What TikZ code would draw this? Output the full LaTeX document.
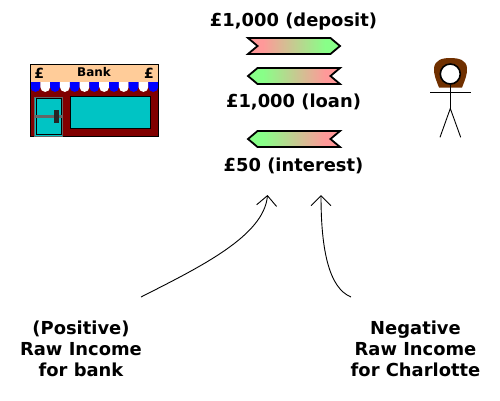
\documentclass[tikz,border=0pt]{standalone}
\usepackage{fontspec}
\setmainfont{DejaVu Sans}
\usepackage{xcolor}
\usetikzlibrary{shapes.symbols,arrows.meta,positioning}

\definecolor{ribbonpink}{HTML}{FF9999}
\definecolor{ribbongreen}{HTML}{88FF88}
\definecolor{shopred}{HTML}{800000}
\definecolor{shopteal}{HTML}{00C4C4}
\definecolor{shoppeach}{HTML}{FFCC99}
\definecolor{hairbrown}{HTML}{703000}
\pgfdeclarehorizontalshading{pinkgreen}{100bp}{color(0bp)=(ribbonpink); color(33bp)=(ribbonpink); color(67bp)=(ribbongreen); color(100bp)=(ribbongreen)}
\pgfdeclarehorizontalshading{greenpink}{100bp}{color(0bp)=(ribbongreen); color(33bp)=(ribbongreen); color(67bp)=(ribbonpink); color(100bp)=(ribbonpink)}

\begin{document}
\begin{tikzpicture}[
  x=1pt, y=-1pt,
  lbl/.style={font=\fontsize{17.9}{21}\selectfont\bfseries, align=center, inner sep=0pt},
  signlbl/.style={font=\fontsize{12}{14}\selectfont\bfseries, inner sep=0pt},
  poundlbl/.style={font=\fontsize{14}{14}\selectfont\bfseries, inner sep=0pt},
  ribbon/.style={draw, line width=1.8pt, signal, signal pointer angle=80, minimum width=92pt, minimum height=16pt, inner sep=0pt, outer sep=0pt},
  paid/.style={ribbon, signal from=west, signal to=east, shading=pinkgreen},
  owed/.style={ribbon, signal from=east, signal to=west, shading=greenpink},
  arr/.style={-{Straight Barb[length=10pt, width=20pt, line width=0.9pt]}, line width=0.9pt},
  glass/.style={fill=shopteal}
]
\useasboundingbox (0,0) rectangle (500,400);

% Central column: repayments and their labels
\node[lbl] (deposit) at (293.5,21.5) {£1,000 (deposit)};
\node[paid] (depositband) at (294,46) {};
\node[owed] (loanband) at (294,76) {};
\node[lbl] (loan) at (293.5,101.5) {£1,000 (loan)};
\node[owed] (interestband) at (294,139) {};
\node[lbl] (interest) at (293.5,165.5) {£50 (interest)};

% Bank shop front
\fill[shopred] (30.5,82) rectangle (158,136.5);
\fill[shoppeach] (30.5,64.5) rectangle (158,82);
\foreach \i in {0,...,12} {
  \pgfmathsetmacro{\xa}{30.5+9.82*\i}
  \pgfmathtruncatemacro{\odd}{mod(\i,2)}
  \ifnum\odd=0 \def\awning{blue}\else\def\awning{white}\fi
  \fill[\awning] (\xa,82) -- ++(0,5) arc[start angle=180, end angle=0, radius=4.91] -- ++(0,-5) -- cycle;
}
\draw[line width=1pt] (30.5,64.5) rectangle (158,136.5);
\draw[glass, draw=black!60, line width=1pt] (34.8,97) rectangle (62.2,136);
\draw[draw=black, line width=0.7pt] (36,98.2) rectangle (61,134.8);
\draw[draw=black!60, line width=3pt] (35,116.7) -- (62,116.7);
\fill[black!85] (54.3,110) rectangle (59,122.7);
\draw[glass, draw=black, line width=1pt] (70.5,96.5) rectangle (150.5,128.3);
\node[signlbl] (bankname) at (94,72.5) {Bank};
\node[poundlbl] (poundleft) at (39.2,73) {£};
\node[poundlbl] (poundright) at (149,73) {£};

% Charlotte
\fill[hairbrown] (439,87.5) .. controls (436,80) and (433.5,74) .. (434,68)
  .. controls (435,60) and (442,58) .. (450,58)
  .. controls (459,58) and (466.5,60) .. (467,68)
  .. controls (467.5,74) and (465,80) .. (462,87.5) -- cycle;
\node[draw, circle, fill=white, line width=1.6pt, minimum size=20pt, inner sep=0pt] (head) at (450.3,74) {};
\coordinate (hip) at (450.3,108.5);
\draw[line width=0.9pt] (head.south) -- (hip);
\draw[line width=0.9pt] (430,92.3) -- (470.7,92.3);
\draw[line width=0.9pt] (440,137.3) -- (hip) -- (460.7,137.3);

% Income labels
\node[lbl] (rawbank) at (81,349) {(Positive)\\Raw Income\\for bank};
\node[lbl] (rawcharlotte) at (415.5,349) {Negative\\Raw Income\\for Charlotte};

% Arrows up to the interest label
\coordinate (bankfoot) at (141,297);
\coordinate (bankhead) at (267.5,195);
\coordinate (charlottefoot) at (351,297);
\coordinate (charlottehead) at (321,195);
\draw[arr] (bankfoot) .. controls (200,267) and (264,236) .. (bankhead);
\draw[arr] (charlottefoot) .. controls (329,288) and (321,250) .. (charlottehead);

\end{tikzpicture}
\end{document}
